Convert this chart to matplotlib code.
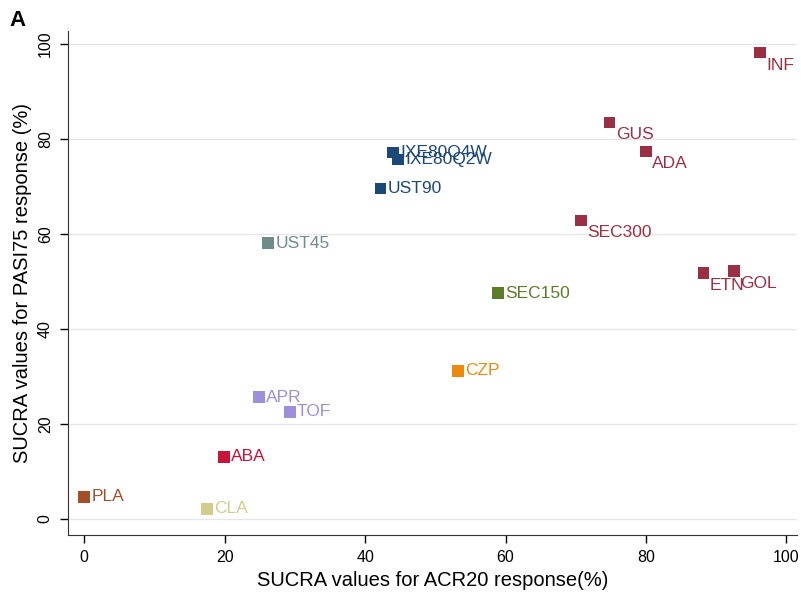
import matplotlib.pyplot as plt

plt.rcParams['font.family'] = ['Liberation Sans', 'DejaVu Sans']

# SUCRA values
labels = ['INF', 'GUS', 'ADA', 'SEC300', 'ETN', 'GOL', 'SEC150', 'CZP',
          'IXE80Q4W', 'IXE80Q2W', 'UST90', 'UST45', 'APR', 'TOF', 'ABA', 'PLA', 'CLA']
acr20 = [96.2, 74.8, 80.0, 70.7, 88.2, 92.5, 58.9, 53.2,
         44.0, 44.7, 42.2, 26.2, 24.9, 29.3, 19.9, 0.0, 17.5]
pasi75 = [98.1, 83.4, 77.3, 62.8, 51.7, 52.1, 47.5, 31.1,
          77.1, 75.6, 69.5, 58.0, 25.6, 22.5, 13.0, 4.6, 2.1]
colors = ['#9b2f43'] * 6 + ['#5b7d2b', '#ec8a0f'] + ['#1c4877'] * 3 + \
         ['#6f8c8a', '#9d8fd9', '#9d8fd9', '#c8133a', '#a24f2a', '#d2cc8c']
# label placement: 'r' = right of marker, 'br' = below right
placement = ['br'] * 6 + ['r'] * 11

fig = plt.figure(figsize=(8.01, 5.93), dpi=100)
ax = fig.add_axes([0.085, 0.098, 0.91, 0.85])

ax.scatter(acr20, pasi75, s=70, marker='s', c=colors, zorder=3, linewidths=0)
for lab, x, y, col, pl in zip(labels, acr20, pasi75, colors, placement):
    if pl == 'r':
        off, va = (5, 0), 'center'
    else:
        off, va = (4.5, -3.5), 'top'
    ax.annotate(lab, (x, y), xytext=off, textcoords='offset points',
                color=col, fontsize=12.5, ha='left', va=va, zorder=4)

ax.set_xlim(-2.3, 101.5)
ax.set_ylim(-3.4, 102.7)
ax.set_xticks([0, 20, 40, 60, 80, 100])
ax.set_yticks([0, 20, 40, 60, 80, 100])
ax.tick_params(axis='both', direction='out', length=6, width=1, labelsize=11.5,
               colors='black', pad=5)
plt.setp(ax.get_yticklabels(), rotation=90, va='center')
ax.grid(axis='y', color='#e6e6e6', linewidth=1)
ax.set_axisbelow(True)
for s in ['top', 'right']:
    ax.spines[s].set_visible(False)
ax.spines['left'].set_color('#333333')
ax.spines['bottom'].set_color('#333333')

ax.set_xlabel('SUCRA values for ACR20 response(%)', fontsize=14.5, labelpad=4)
ax.set_ylabel('SUCRA values for PASI75 response (%)', fontsize=14.5, labelpad=4)

fig.text(0.012, 0.965, 'A', fontsize=16, fontweight='bold', va='center')

fig.savefig('out.png', dpi=100)
